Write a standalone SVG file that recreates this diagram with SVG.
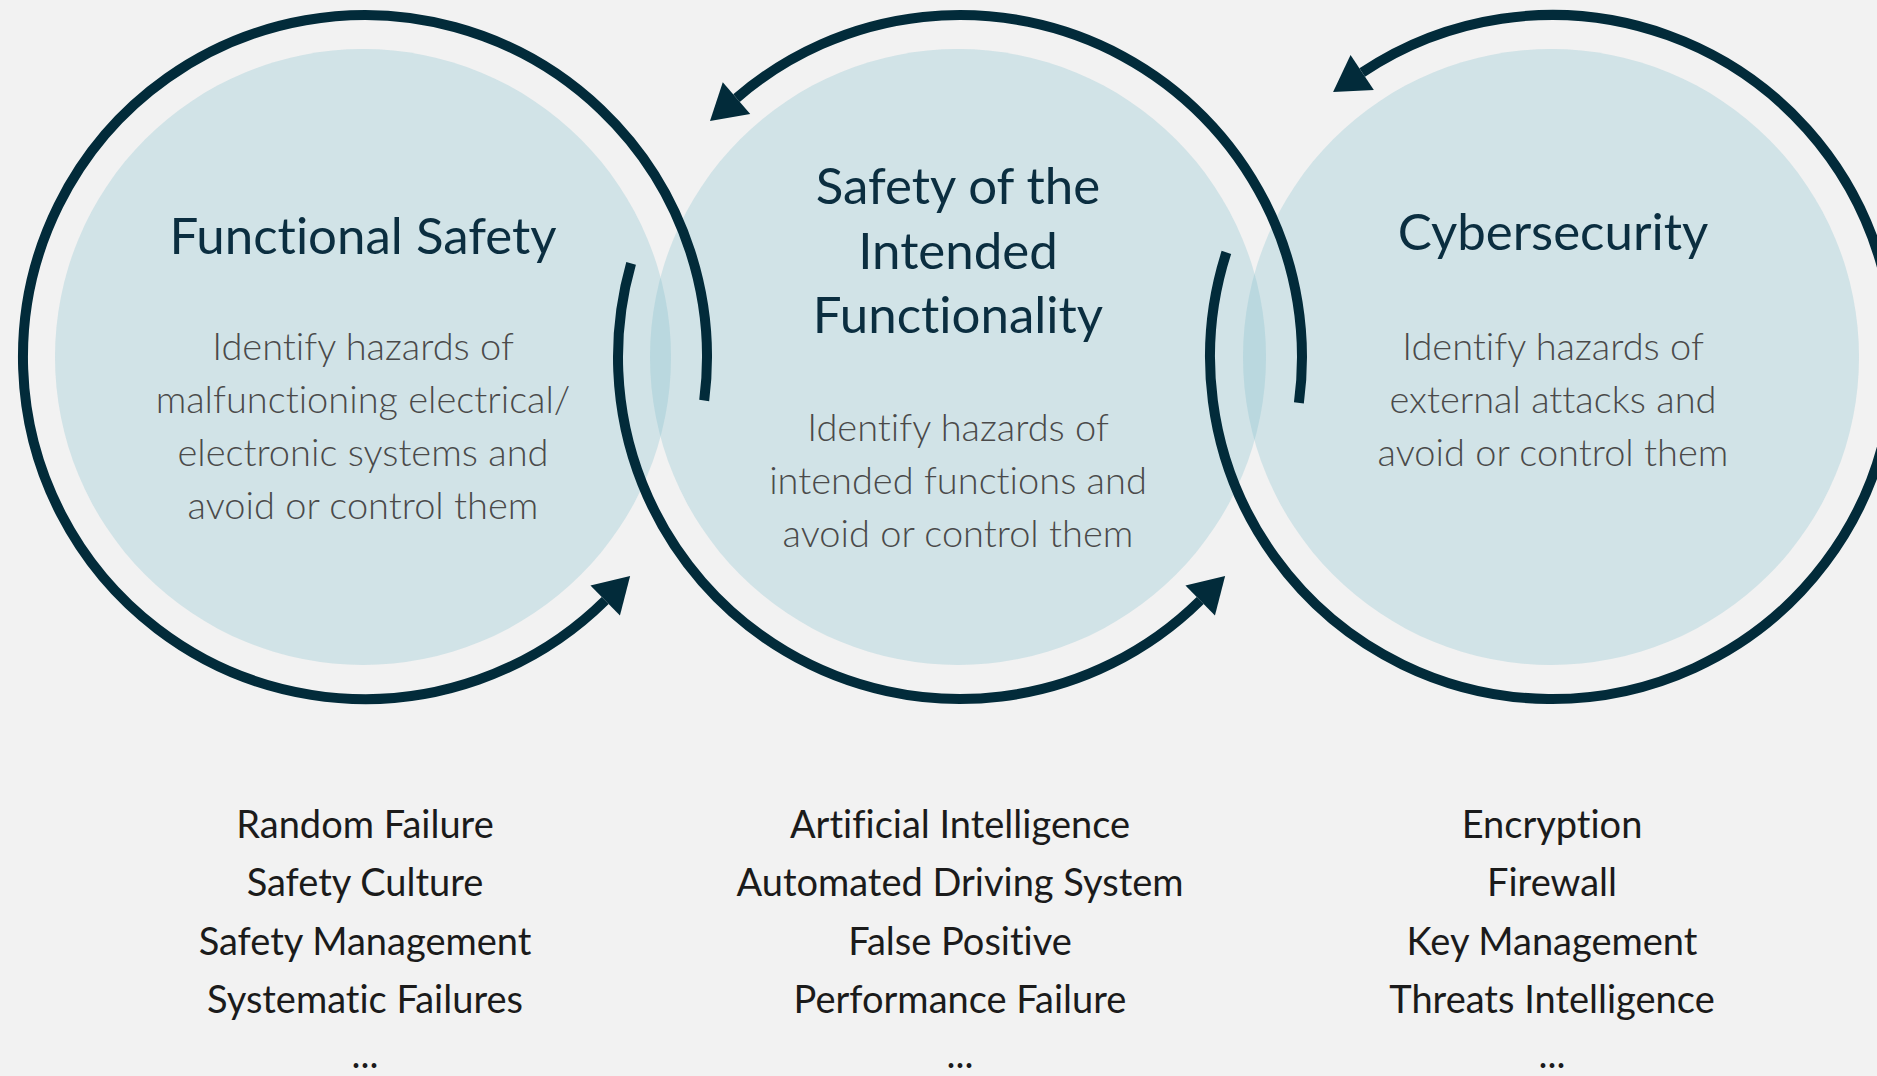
<svg xmlns="http://www.w3.org/2000/svg" width="1877" height="1076" viewBox="0 0 1877 1076">
<style>
.bg{fill:#f2f2f2}
.disc{fill:#84c0cd;fill-opacity:0.3}
.ring{fill:none;stroke:#022b3a;stroke-width:10}
text{font-variant-ligatures:none;font-feature-settings:"liga" 0,"clig" 0}
.title{font-family:"Lato","Noto Sans",sans-serif;font-size:51px;fill:#0b2e40;text-anchor:middle}
.desc{font-family:"Lato","Noto Sans",sans-serif;font-weight:300;font-size:38px;fill:#4a4a4a;text-anchor:middle}
.item{font-family:"Lato","Noto Sans",sans-serif;font-size:38px;fill:#1b1b1b;text-anchor:middle}
</style>
<defs>
<marker id="ah" markerUnits="userSpaceOnUse" viewBox="0 -21 35 42" refX="0" refY="0" markerWidth="35" markerHeight="42" orient="auto" overflow="visible">
<path d="M0,-21 L35,0 L0,21 z" fill="#022b3a"/>
</marker>
</defs>
<rect class="bg" x="0" y="0" width="1877" height="1076"/>
<g id="node-functional-safety">
<circle class="disc" cx="363" cy="357" r="308"/>
<text class="title" x="363" y="254">Functional Safety</text>
<text class="desc" x="363" y="360">Identify hazards of</text>
<text class="desc" x="363" y="413">malfunctioning electrical/</text>
<text class="desc" x="363" y="466">electronic systems and</text>
<text class="desc" x="363" y="519">avoid or control them</text>
</g>
<g id="node-sotif">
<circle class="disc" cx="958" cy="357" r="308"/>
<text class="title" x="958" y="204">Safety of the</text>
<text class="title" x="958" y="269">Intended</text>
<text class="title" x="958" y="333">Functionality</text>
<text class="desc" x="958" y="441">Identify hazards of</text>
<text class="desc" x="958" y="494">intended functions and</text>
<text class="desc" x="958" y="547">avoid or control them</text>
</g>
<g id="node-cybersecurity">
<circle class="disc" cx="1551" cy="357" r="308"/>
<text class="title" x="1553" y="250">Cybersecurity</text>
<text class="desc" x="1553" y="360">Identify hazards of</text>
<text class="desc" x="1553" y="413">external attacks and</text>
<text class="desc" x="1553" y="466">avoid or control them</text>
</g>
<g id="connectors">
<path class="ring" d="M704.2,400.5 A342,342 0 1 0 605.2,600.5" marker-end="url(#ah)"/>
<path class="ring" d="M1298.9,402.8 A342,342 0 0 0 736.5,98.1" marker-end="url(#ah)"/>
<path class="ring" d="M631.1,263.3 A342,342 0 0 0 1200.2,600.5" marker-end="url(#ah)"/>
<path class="ring" d="M1226.4,252.4 A342,342 0 1 0 1362.2,72.5" marker-end="url(#ah)"/>
</g>
<g id="list-functional-safety">
<text class="item" x="365" y="838">Random Failure</text>
<text class="item" x="365" y="896">Safety Culture</text>
<text class="item" x="365" y="955">Safety Management</text>
<text class="item" x="365" y="1013">Systematic Failures</text>
<text class="item" x="365" y="1068">...</text>
</g>
<g id="list-sotif">
<text class="item" x="960" y="838">Artificial Intelligence</text>
<text class="item" x="960" y="896">Automated Driving System</text>
<text class="item" x="960" y="955">False Positive</text>
<text class="item" x="960" y="1013">Performance Failure</text>
<text class="item" x="960" y="1068">...</text>
</g>
<g id="list-cybersecurity">
<text class="item" x="1552" y="838">Encryption</text>
<text class="item" x="1552" y="896">Firewall</text>
<text class="item" x="1552" y="955">Key Management</text>
<text class="item" x="1552" y="1013">Threats Intelligence</text>
<text class="item" x="1552" y="1068">...</text>
</g>
</svg>
